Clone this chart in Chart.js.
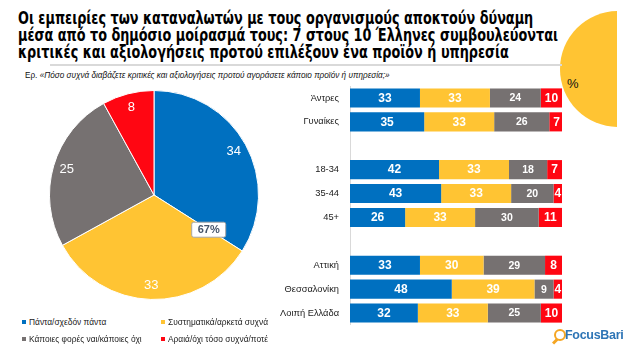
<!DOCTYPE html>
<html>
<head>
<meta charset="utf-8">
<script src="https://cdn.jsdelivr.net/npm/chart.js@4.4.1/dist/chart.umd.min.js"></script>
<style>
  body { margin: 0; background: #fff; font-family: "Liberation Sans", Arial, sans-serif; }
  #page { position: relative; width: 637px; height: 363px; overflow: hidden; background: #fff; }
  #clip { position: absolute; left: 0; top: 0; width: 617px; height: 363px; overflow: hidden; }
  #blob { position: absolute; left: 560px; top: 11px; width: 116px; height: 116px; border-radius: 50%; background: #FFC433; }
  #pct { position: absolute; left: 567px; top: 76px; font-size: 13px; color: #111; }
  #title { position: absolute; left: 18px; top: 9px; font-family: "Liberation Sans Narrow", "DejaVu Sans Condensed", sans-serif;
           font-weight: bold; font-size: 18px; line-height: 17px; color: #000; transform-origin: 0 0; white-space: nowrap; }
  #rule { position: absolute; left: 50px; top: 64px; width: 512px; height: 2px; background: #d9d9d9; }
  #question { position: absolute; left: 25px; top: 71px; font-size: 8.2px; color: #111; white-space: nowrap; }
  #question i { font-style: italic; }
  #pie { position: absolute; left: 49px; top: 90px; }
  #bars { position: absolute; left: 270px; top: 86px; }
  .leg { position: absolute; font-size: 8.4px; color: #222; white-space: nowrap; }
  .leg span { display: inline-block; width: 4px; height: 4px; margin-right: 3px; vertical-align: 1px; }
  #logo { position: absolute; left: 552px; top: 327px; height: 22px; }
  #lens { position: absolute; left: 2px; top: 2px; width: 8px; height: 8px; border: 2px solid #F5A623; border-radius: 50%; }
  #handle { position: absolute; left: 0px; top: 13px; width: 6px; height: 2.5px; background: #F5A623; transform: rotate(-45deg); }
  #brand { position: absolute; left: 13px; top: 1px; font-size: 12.5px; font-weight: bold; color: #2E75B6; letter-spacing: -0.3px; }
</style>
</head>
<body>
<div id="page">
  <div id="clip">
    <div id="blob"></div>
  </div>
  <div id="pct">%</div>
  <div id="title">
    <div>Οι εμπειρίες των καταναλωτών με τους οργανισμούς αποκτούν δύναμη</div>
    <div id="longLine">μέσα από το δημόσιο μοίρασμά τους: 7 στους 10 Έλληνες συμβουλεύονται</div>
    <div>κριτικές και αξιολογήσεις προτού επιλέξουν ένα προϊόν ή υπηρεσία</div>
  </div>
  <div id="rule"></div>
  <div id="question">Ερ. <i>«Πόσο συχνά διαβάζετε κριτικές και αξιολογήσεις προτού αγοράσετε κάποιο προϊόν ή υπηρεσία;»</i></div>
  <canvas id="pie" width="210" height="210"></canvas>
  <canvas id="bars" width="292" height="239"></canvas>
  <div id="legend"></div>
  <div id="logo"><div id="lens"></div><div id="handle"></div><div id="brand">FocusBari</div></div>
</div>

<script>
// Answers (legend order)
const answers = ['Πάντα/σχεδόν πάντα', 'Συστηματικά/αρκετά συχνά', 'Κάποιες φορές ναι/κάποιες όχι', 'Αραιά/όχι τόσο συχνά/ποτέ']
const colors = ['#0070C0', '#FFC433', '#767171', '#FF0612']

// Total sample (pie)
const totalValues = [34, 33, 25, 8]

// Breakdown (bars), blank rows separate the groups
const groups = ['Άντρες', 'Γυναίκες', ' ', '18-34', '35-44', '45+', '  ', 'Αττική', 'Θεσσαλονίκη', 'Λοιπή Ελλάδα']
const always = [33, 35, null, 42, 43, 26, null, 33, 48, 32]
const often = [33, 33, null, 33, 33, 33, null, 30, 39, 33]
const sometimes = [24, 26, null, 18, 20, 30, null, 29, 9, 25]
const rarely = [10, 7, null, 7, 4, 11, null, 8, 4, 10]

// fit title width like the original
const titleEl = document.getElementById('title')
const scale = 540 / document.getElementById('longLine').getBoundingClientRect().width
titleEl.style.transform = 'scaleX(' + scale + ')'

// legend
const legendPos = [[22, 317], [161, 317], [22, 334], [161, 334]]
const legendEl = document.getElementById('legend')
answers.forEach((a, i) => {
  const d = document.createElement('div')
  d.className = 'leg'
  d.style.left = legendPos[i][0] + 'px'
  d.style.top = legendPos[i][1] + 'px'
  d.innerHTML = '<span style="background:' + colors[i] + '"></span>' + a
  legendEl.appendChild(d)
})

// labels on pie slices + the 67% box
const pieLabels = {
  id: 'pieLabels',
  afterDatasetsDraw(chart) {
    const ctx = chart.ctx
    const meta = chart.getDatasetMeta(0)
    ctx.save()
    ctx.textAlign = 'center'
    ctx.textBaseline = 'middle'
    ctx.font = '13px "Liberation Sans", sans-serif'
    ctx.fillStyle = '#fff'
    meta.data.forEach((arc, i) => {
      const p = arc.getProps(['x', 'y', 'startAngle', 'endAngle', 'outerRadius'], true)
      const mid = (p.startAngle + p.endAngle) / 2
      const r = p.outerRadius * 0.87
      ctx.fillText(totalValues[i], p.x + Math.cos(mid) * r, p.y + Math.sin(mid) * r)
    })
    // box at border between first two slices
    const a0 = meta.data[0].getProps(['x', 'y', 'endAngle', 'outerRadius'], true)
    const r = a0.outerRadius * 0.62
    const bx = a0.x + Math.cos(a0.endAngle) * r
    const by = a0.y + Math.sin(a0.endAngle) * r
    const w = 34, h = 15
    ctx.beginPath()
    ctx.roundRect(bx - w / 2, by - h / 2, w, h, 2)
    ctx.fillStyle = '#fff'
    ctx.fill()
    ctx.strokeStyle = '#a6a6a6'
    ctx.lineWidth = 1
    ctx.stroke()
    ctx.fillStyle = '#44546A'
    ctx.font = 'bold 11px "Liberation Sans", sans-serif'
    ctx.fillText((totalValues[0] + totalValues[1]) + '%', bx, by + 0.5)
    ctx.restore()
  }
}

new Chart(document.getElementById('pie'), {
  type: 'pie',
  data: {
    labels: answers,
    datasets: [{
      data: totalValues,
      backgroundColor: colors,
      borderColor: '#fff',
      borderWidth: 1
    }]
  },
  options: {
    responsive: false,
    animation: false,
    devicePixelRatio: 1,
    layout: { padding: 0 },
    plugins: { legend: { display: false }, tooltip: { enabled: false } }
  },
  plugins: [pieLabels]
})

// numbers inside the stacked bars
const barLabels = {
  id: 'barLabels',
  afterDatasetsDraw(chart) {
    const ctx = chart.ctx
    ctx.save()
    ctx.textAlign = 'center'
    ctx.textBaseline = 'middle'
    ctx.fillStyle = '#fff'
    chart.data.datasets.forEach((ds, di) => {
      const meta = chart.getDatasetMeta(di)
      ctx.font = (di === 2 ? 'bold 10.5px' : 'bold 12px') + ' "Liberation Sans", sans-serif'
      meta.data.forEach((bar, i) => {
        if (ds.data[i] == null) return
        const p = bar.getProps(['x', 'y', 'base'], true)
        ctx.fillText(ds.data[i], (p.x + p.base) / 2, p.y + 0.5)
      })
    })
    ctx.restore()
  }
}

const series = [always, often, sometimes, rarely]

new Chart(document.getElementById('bars'), {
  type: 'bar',
  data: {
    labels: groups,
    datasets: series.map((s, i) => ({
      label: answers[i],
      data: s,
      backgroundColor: colors[i],
      borderWidth: 0,
      categoryPercentage: 1,
      barPercentage: 0.8
    }))
  },
  options: {
    indexAxis: 'y',
    responsive: false,
    animation: false,
    devicePixelRatio: 1,
    layout: { padding: 0 },
    scales: {
      x: { stacked: true, min: 0, max: 100, display: false },
      y: {
        stacked: true,
        afterFit: (s) => { s.width = 80; s.paddingTop = 0; s.paddingBottom = 0 },
        grid: { display: false, drawTicks: false },
        border: { display: true, color: '#d9d9d9', width: 1 },
        ticks: { padding: 11, color: '#1a1a1a', font: { size: 9.3, family: '"Liberation Sans", sans-serif' } }
      }
    },
    plugins: { legend: { display: false }, tooltip: { enabled: false } }
  },
  plugins: [barLabels]
})
</script>
</body>
</html>
